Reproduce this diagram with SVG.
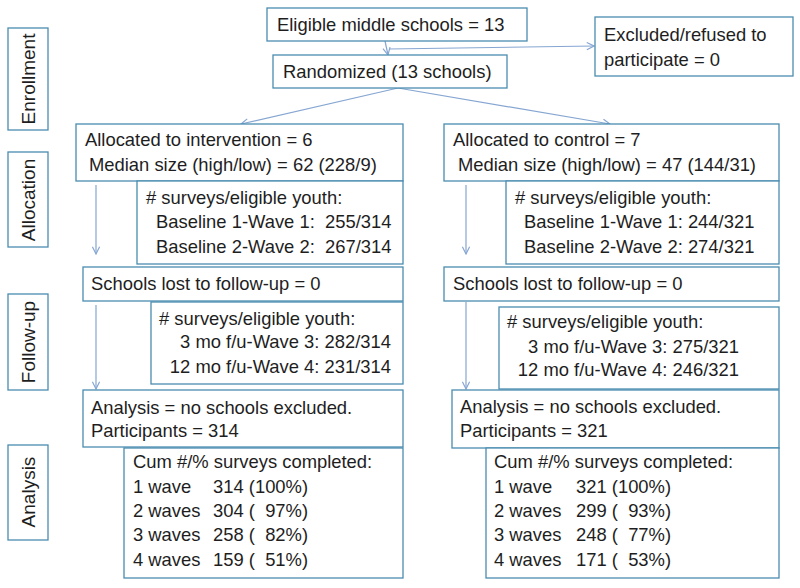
<svg xmlns="http://www.w3.org/2000/svg" width="800" height="588" viewBox="0 0 800 588">
<defs>
<style>
.box{fill:#fff;stroke:#4a8db0;stroke-width:1.3}
.t{font-family:"Liberation Sans",Arial,sans-serif;font-size:18.4px;fill:#1e1e1e;white-space:pre}
.side{font-family:"Liberation Sans",Arial,sans-serif;font-size:19px;fill:#1e1e1e;text-anchor:middle}
.con{fill:none;stroke:#86a6d2;stroke-width:1.2;marker-end:url(#ah)}
</style>
<marker id="ah" viewBox="0 0 10 10" refX="9" refY="5" markerWidth="9" markerHeight="9" markerUnits="userSpaceOnUse" orient="auto">
<path d="M1,1 L9,5 L1,9" fill="none" stroke="#86a6d2" stroke-width="1.3"/>
</marker>
</defs>
<rect width="800" height="588" fill="#fff"/>

<g id="connectors">
<line class="con" x1="385" y1="41" x2="388" y2="55"/>
<line class="con" x1="389" y1="49" x2="594" y2="46"/>
<line class="con" x1="398" y1="88" x2="241" y2="124"/>
<line class="con" x1="398" y1="88" x2="610" y2="124"/>
<line class="con" x1="96" y1="185" x2="96" y2="254"/>
<line class="con" x1="466" y1="185" x2="466" y2="254"/>
<line class="con" x1="96" y1="305" x2="96" y2="389"/>
<line class="con" x1="466" y1="302" x2="466" y2="389"/>
</g>

<g id="side-enrollment">
<rect class="box" x="8" y="28" width="40" height="102"/>
<text class="side" transform="translate(35,79) rotate(-90)">Enrollment</text>
</g>
<g id="side-allocation">
<rect class="box" x="8" y="152" width="40" height="95"/>
<text class="side" transform="translate(35,200) rotate(-90)">Allocation</text>
</g>
<g id="side-followup">
<rect class="box" x="8" y="294" width="40" height="96"/>
<text class="side" transform="translate(35,342) rotate(-90)">Follow-up</text>
</g>
<g id="side-analysis">
<rect class="box" x="8" y="445" width="40" height="95"/>
<text class="side" transform="translate(35,492) rotate(-90)">Analysis</text>
</g>

<g id="eligible">
<rect class="box" x="267" y="8" width="260" height="33"/>
<text class="t" x="277" y="31">Eligible middle schools = 13</text>
</g>
<g id="excluded">
<rect class="box" x="595" y="17" width="198" height="59"/>
<text class="t" x="604" y="41">Excluded/refused to</text>
<text class="t" x="604" y="66">participate = 0</text>
</g>
<g id="randomized">
<rect class="box" x="273" y="55" width="234" height="33"/>
<text class="t" x="283" y="78">Randomized (13 schools)</text>
</g>

<g id="alloc-int">
<rect class="box" x="76" y="124" width="327" height="57"/>
<text class="t" x="85" y="146">Allocated to intervention = 6</text>
<text class="t" x="89" y="171">Median size (high/low) = 62 (228/9)</text>
</g>
<g id="base-int">
<rect class="box" x="137" y="181" width="266" height="83"/>
<text class="t" x="146" y="204"># surveys/eligible youth:</text>
<text class="t" x="156" y="228">Baseline 1-Wave 1:  255/314</text>
<text class="t" x="156" y="253">Baseline 2-Wave 2:  267/314</text>
</g>
<g id="lost-int">
<rect class="box" x="83" y="267" width="320" height="34"/>
<text class="t" x="91" y="290">Schools lost to follow-up = 0</text>
</g>
<g id="fu-int">
<rect class="box" x="151" y="302" width="252" height="82"/>
<text class="t" x="159" y="325"># surveys/eligible youth:</text>
<text class="t" x="391" y="348" text-anchor="end">3 mo f/u-Wave 3: 282/314</text>
<text class="t" x="391" y="373" text-anchor="end">12 mo f/u-Wave 4: 231/314</text>
</g>
<g id="analysis-int">
<rect class="box" x="83" y="390" width="320" height="57"/>
<text class="t" x="91" y="414">Analysis = no schools excluded.</text>
<text class="t" x="91" y="437">Participants = 314</text>
</g>
<g id="cum-int">
<rect class="box" x="124" y="448" width="279" height="130"/>
<text class="t" x="133" y="468">Cum #/% surveys completed:</text>
<text class="t" x="133" y="493">1 wave</text>
<text class="t" x="213" y="493">314 (100%)</text>
<text class="t" x="133" y="517">2 waves</text>
<text class="t" x="213" y="517">304 (  97%)</text>
<text class="t" x="133" y="541">3 waves</text>
<text class="t" x="213" y="541">258 (  82%)</text>
<text class="t" x="133" y="566">4 waves</text>
<text class="t" x="213" y="566">159 (  51%)</text>
</g>

<g id="alloc-ctl">
<rect class="box" x="444" y="124" width="335" height="57"/>
<text class="t" x="453" y="146">Allocated to control = 7</text>
<text class="t" x="458" y="171">Median size (high/low) = 47 (144/31)</text>
</g>
<g id="base-ctl">
<rect class="box" x="506" y="181" width="273" height="83"/>
<text class="t" x="515" y="204"># surveys/eligible youth:</text>
<text class="t" x="524" y="228">Baseline 1-Wave 1: 244/321</text>
<text class="t" x="524" y="253">Baseline 2-Wave 2: 274/321</text>
</g>
<g id="lost-ctl">
<rect class="box" x="444" y="267" width="335" height="34"/>
<text class="t" x="453" y="290">Schools lost to follow-up = 0</text>
</g>
<g id="fu-ctl">
<rect class="box" x="499" y="307" width="280" height="82"/>
<text class="t" x="507" y="328"># surveys/eligible youth:</text>
<text class="t" x="739" y="353" text-anchor="end">3 mo f/u-Wave 3: 275/321</text>
<text class="t" x="739" y="376" text-anchor="end">12 mo f/u-Wave 4: 246/321</text>
</g>
<g id="analysis-ctl">
<rect class="box" x="452" y="390" width="327" height="58"/>
<text class="t" x="460" y="413">Analysis = no schools excluded.</text>
<text class="t" x="460" y="437">Participants = 321</text>
</g>
<g id="cum-ctl">
<rect class="box" x="486" y="448" width="293" height="130"/>
<text class="t" x="494" y="468">Cum #/% surveys completed:</text>
<text class="t" x="494" y="493">1 wave</text>
<text class="t" x="576" y="493">321 (100%)</text>
<text class="t" x="494" y="517">2 waves</text>
<text class="t" x="576" y="517">299 (  93%)</text>
<text class="t" x="494" y="541">3 waves</text>
<text class="t" x="576" y="541">248 (  77%)</text>
<text class="t" x="494" y="566">4 waves</text>
<text class="t" x="576" y="566">171 (  53%)</text>
</g>
</svg>
